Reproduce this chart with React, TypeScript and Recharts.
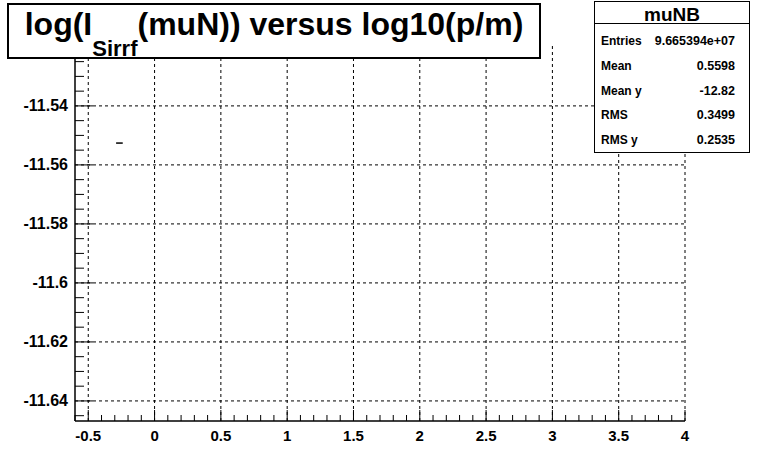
import { ComposedChart, Line, XAxis, YAxis, ReferenceLine } from 'recharts';

// axis labels (major ticks)
const xMajor = [-0.5, 0, 0.5, 1, 1.5, 2, 2.5, 3, 3.5, 4];
const yMajor = [-11.64, -11.62, -11.6, -11.58, -11.56, -11.54];

// the only filled bin, drawn as a short horizontal segment
const markX = [-0.29, -0.24];
const markY = [-11.5526, -11.5526];

// stats box
const statTitle = 'muNB';
const statLabels = ['Entries', 'Mean', 'Mean y', 'RMS', 'RMS y'];
const statValues = ['9.665394e+07', '0.5598', '-12.82', '0.3499', '0.2535'];

const X_DOMAIN: [number, number] = [-0.6, 4];
const Y_DOMAIN: [number, number] = [-11.6468, -11.5197];

// minor ticks: 0.1 on x, 0.005 on y
const xTicks: number[] = [];
for (let i = -6; i <= 40; i++) xTicks.push(i / 10);
const yTicks: number[] = [];
for (let i = -11645; i <= -11520; i += 5) yTicks.push(i / 1000);

const isMajorX = (v: number) => Math.abs(v * 2 - Math.round(v * 2)) < 1e-6;
const isMajorY = (v: number) => Math.abs(v * 50 - Math.round(v * 50)) < 1e-6;

const FONT = '"Liberation Sans", Arial, Helvetica, sans-serif';

const markData = markX.map((x, i) => ({ x, y: markY[i] }));

const XTick = (props: any) => {
  const { x, y, payload } = props;
  const v = Math.round(payload.value * 10) / 10;
  const major = isMajorX(v);
  return (
    <g>
      <line x1={x} x2={x} y1={y} y2={y - (major ? 11 : 6)} stroke="#000" strokeWidth={1} />
      {major && (
        <text x={x} y={y + 14} textAnchor="middle" dominantBaseline="central"
          fontFamily={FONT} fontSize={15} fontWeight="bold" fill="#000">
          {String(v)}
        </text>
      )}
    </g>
  );
};

const YTick = (props: any) => {
  const { x, y, payload } = props;
  const v = Math.round(payload.value * 1000) / 1000;
  const major = isMajorY(v);
  // the -11.52 label sits under the title box in the reference
  const showLabel = major && yMajor.some((m) => Math.abs(m - v) < 1e-6);
  return (
    <g>
      <line x1={x} x2={x + (major ? 18 : 9)} y1={y} y2={y} stroke="#000" strokeWidth={1} />
      {showLabel && (
        <text x={x - 7} y={y} textAnchor="end" dominantBaseline="central"
          fontFamily={FONT} fontSize={16} fontWeight="bold" fill="#000">
          {String(v)}
        </text>
      )}
    </g>
  );
};

export default function App() {
  return (
    <div style={{ position: 'absolute', left: 0, top: 0, width: 763, height: 469, background: '#fff', fontFamily: FONT }}>
      <ComposedChart width={763} height={469} data={markData}
        margin={{ top: 46, right: 78, bottom: 0, left: 0 }}>
        <XAxis dataKey="x" type="number" domain={X_DOMAIN} allowDataOverflow ticks={xTicks} interval={0}
          height={48} tickSize={0} tickMargin={0} tickLine={false}
          axisLine={{ stroke: '#000', strokeWidth: 1.5 }} tick={XTick} />
        <XAxis xAxisId="top" orientation="top" type="number" domain={X_DOMAIN} height={0}
          tick={false} tickLine={false} axisLine={{ stroke: '#000', strokeWidth: 1.5 }} />
        <YAxis dataKey="y" type="number" domain={Y_DOMAIN} allowDataOverflow ticks={yTicks} interval={0}
          width={75} tickSize={0} tickMargin={0} tickLine={false}
          axisLine={{ stroke: '#000', strokeWidth: 1.5 }} tick={YTick} />
        <YAxis yAxisId="right" orientation="right" type="number" domain={Y_DOMAIN} width={0}
          tick={false} tickLine={false} axisLine={{ stroke: '#000', strokeWidth: 1.5 }} />
        {xMajor.map((v) => (
          <ReferenceLine key={'gx' + v} x={v} stroke="#000" strokeWidth={1} strokeDasharray="3 3" ifOverflow="visible" />
        ))}
        {yMajor.map((v) => (
          <ReferenceLine key={'gy' + v} y={v} stroke="#000" strokeWidth={1} strokeDasharray="3 3" ifOverflow="visible" />
        ))}
        <Line dataKey="y" type="linear" stroke="#000" strokeWidth={1.5} dot={false}
          activeDot={false} isAnimationActive={false} />
      </ComposedChart>

      {/* title box */}
      <div style={{
        position: 'absolute', left: 7, top: 3, width: 534, height: 56, boxSizing: 'border-box',
        border: '2px solid #000', background: '#fff'
      }}>
        <div style={{
          position: 'absolute', left: 0, right: 0, top: 3, textAlign: 'center',
          fontSize: 32, lineHeight: '32px', fontWeight: 'bold', whiteSpace: 'nowrap'
        }}>
          log(I<span style={{ fontSize: 22, position: 'relative', top: 21 }}>Sirrf</span>(muN)) versus log10(p/m)
        </div>
      </div>

      {/* stats box */}
      <div style={{
        position: 'absolute', left: 594, top: 1, width: 156, height: 152, boxSizing: 'border-box',
        border: '1px solid #000', background: '#fff', fontWeight: 'bold'
      }}>
        <div style={{ position: 'absolute', left: 0, right: 0, top: 2, textAlign: 'center', fontSize: 19, lineHeight: '22px' }}>
          {statTitle}
        </div>
        <div style={{ position: 'absolute', left: 0, right: 0, top: 21, borderTop: '1px solid #000' }} />
        {statLabels.map((label, i) => (
          <div key={label} style={{
            position: 'absolute', left: 6, right: 14, top: 31 + i * 24.75, height: 16,
            lineHeight: '16px', display: 'flex', justifyContent: 'space-between'
          }}>
            <span style={{ fontSize: 12 }}>{label}</span>
            <span style={{ fontSize: 12.5 }}>{statValues[i]}</span>
          </div>
        ))}
      </div>
    </div>
  );
}
